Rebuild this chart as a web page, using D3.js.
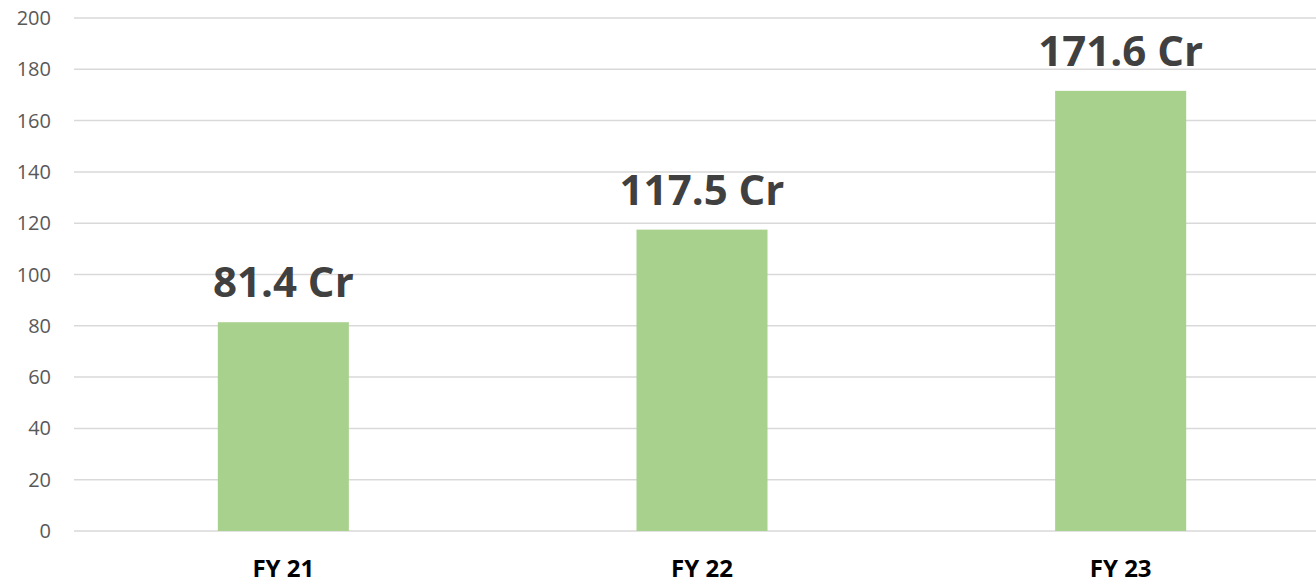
<!DOCTYPE html>
<html lang="en">
<head>
    <meta charset="UTF-8">
    <title>Revenue FY21-FY23</title>
    <script src="https://d3js.org/d3.v7.min.js"></script>
    <style>
        body { margin: 0; background: #fff; font-family: "Open Sans", Arial, sans-serif; }
        svg { display: block; }
        .grid line { stroke: #d9d9d9; stroke-width: 1.5px; }
        .tick-label { fill: #595959; font-size: 20px; }
        .cat-label { fill: #000; font-size: 24px; font-weight: bold; }
        .value-label { fill: #404040; font-size: 42px; font-weight: bold; }
    </style>
</head>
<body>
    <svg id="chart" width="1316" height="583"></svg>
    <script>
        // chart data
        const categories = ["FY 21", "FY 22", "FY 23"];
        const values = [81.4, 117.5, 171.6];
        const valueLabels = ["81.4 Cr", "117.5 Cr", "171.6 Cr"];
        const yTicks = [0, 20, 40, 60, 80, 100, 120, 140, 160, 180, 200];

        const svg = d3.select("#chart");
        const plotLeft = 74, plotRight = 1330, plotTop = 18, plotBottom = 531;

        const x = d3.scaleBand().domain(categories).range([plotLeft, plotRight]).padding(0);
        const y = d3.scaleLinear().domain([0, 200]).range([plotBottom, plotTop]);
        const barW = x.bandwidth() * 0.313;

        // gridlines
        svg.append("g").attr("class", "grid")
            .selectAll("line").data(yTicks).join("line")
            .attr("x1", plotLeft).attr("x2", 1316)
            .attr("y1", d => y(d)).attr("y2", d => y(d));

        // y tick labels
        svg.append("g").selectAll("text").data(yTicks).join("text")
            .attr("class", "tick-label")
            .attr("x", 51).attr("y", d => y(d) + 7)
            .attr("text-anchor", "end")
            .text(d => d);

        // bars
        svg.append("g").selectAll("rect").data(values).join("rect")
            .attr("x", (d, i) => x(categories[i]) + x.bandwidth() / 2 - barW / 2)
            .attr("y", d => y(d))
            .attr("width", barW)
            .attr("height", d => y(0) - y(d))
            .attr("fill", "#a9d18e");

        // value labels
        svg.append("g").selectAll("text").data(values).join("text")
            .attr("class", "value-label")
            .attr("x", (d, i) => x(categories[i]) + x.bandwidth() / 2)
            .attr("y", d => y(d) - 25)
            .attr("text-anchor", "middle")
            .text((d, i) => valueLabels[i]);

        // category labels
        svg.append("g").selectAll("text").data(categories).join("text")
            .attr("class", "cat-label")
            .attr("x", d => x(d) + x.bandwidth() / 2)
            .attr("y", 577)
            .attr("text-anchor", "middle")
            .text(d => d);
    </script>
</body>
</html>
